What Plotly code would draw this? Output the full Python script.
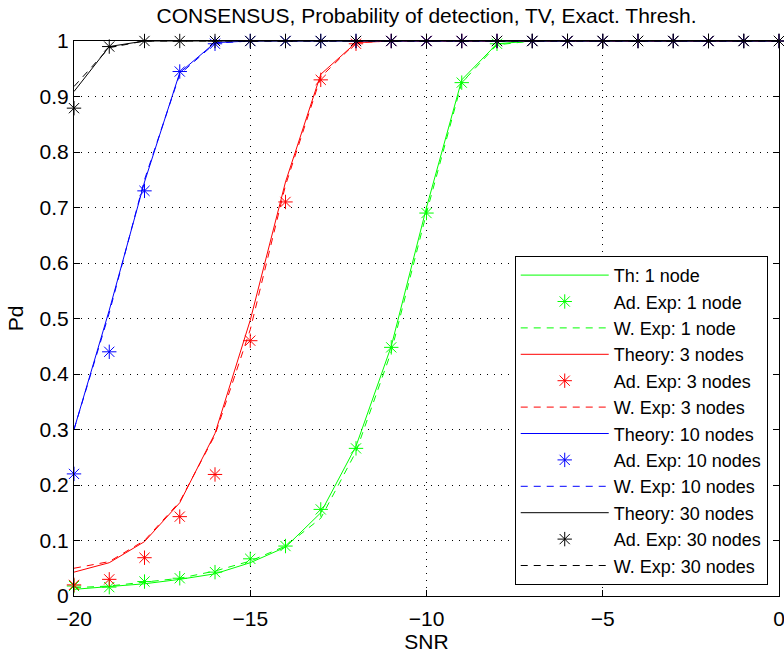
import plotly.graph_objects as go

snr = list(range(-20, 1))

th_1 = [0.012, 0.017, 0.022, 0.030, 0.040, 0.060, 0.088, 0.150, 0.270, 0.450, 0.700, 0.930, 0.995] + [1.0] * 8
ad_1 = [0.018, 0.016, 0.026, 0.032, 0.043, 0.067, 0.090, 0.156, 0.266, 0.448, 0.690, 0.925, 0.995] + [1.0] * 8
we_1 = [0.015, 0.018, 0.025, 0.032, 0.045, 0.063, 0.090, 0.140, 0.260, 0.440, 0.690, 0.925, 0.993] + [1.0] * 8

th_3 = [0.043, 0.060, 0.098, 0.168, 0.293, 0.497, 0.746, 0.940, 0.997] + [1.0] * 12
ad_3 = [0.020, 0.030, 0.069, 0.143, 0.219, 0.460, 0.710, 0.930, 0.995] + [1.0] * 12
we_3 = [0.050, 0.062, 0.100, 0.170, 0.290, 0.480, 0.740, 0.935, 0.997] + [1.0] * 12

th_10 = [0.300, 0.515, 0.746, 0.943, 0.997] + [1.0] * 16
ad_10 = [0.220, 0.440, 0.730, 0.945, 0.995] + [1.0] * 16
we_10 = [0.300, 0.510, 0.750, 0.940, 0.996] + [1.0] * 16

th_30 = [0.909, 0.990] + [1.0] * 19
ad_30 = [0.879, 0.990] + [1.0] * 19
we_30 = [0.918, 0.988] + [1.0] * 19

x_ticks = [-20, -15, -10, -5, 0]
y_ticks = [0, 0.1, 0.2, 0.3, 0.4, 0.5, 0.6, 0.7, 0.8, 0.9, 1]
y_tick_labels = ["0", "0.1", "0.2", "0.3", "0.4", "0.5", "0.6", "0.7", "0.8", "0.9", "1"]

groups = [
    ("Th: 1 node", "Ad. Exp: 1 node", "W. Exp: 1 node", th_1, ad_1, we_1, "#00ff00"),
    ("Theory: 3 nodes", "Ad. Exp: 3 nodes", "W. Exp: 3 nodes", th_3, ad_3, we_3, "#ff0000"),
    ("Theory: 10 nodes", "Ad. Exp: 10 nodes", "W. Exp: 10 nodes", th_10, ad_10, we_10, "#0000ff"),
    ("Theory: 30 nodes", "Ad. Exp: 30 nodes", "W. Exp: 30 nodes", th_30, ad_30, we_30, "#000000"),
]

FONT = "Liberation Sans, Arial, sans-serif"
FS = 21

fig = go.Figure()
for n_th, n_ad, n_we, th, ad, we, col in groups:
    fig.add_trace(go.Scatter(x=snr, y=th, mode="lines", name=n_th,
                             line=dict(color=col, width=1), cliponaxis=False))
    fig.add_trace(go.Scatter(x=snr, y=ad, mode="markers", name=n_ad,
                             marker=dict(symbol="asterisk-open", size=12,
                                         line=dict(color=col, width=1), color=col),
                             cliponaxis=False))
    fig.add_trace(go.Scatter(x=snr, y=we, mode="lines", name=n_we,
                             line=dict(color=col, width=1, dash="7px,6px"), cliponaxis=False))

axis_common = dict(
    showline=True, linecolor="black", linewidth=1, mirror="ticks",
    ticks="inside", ticklen=6, tickcolor="black", tickwidth=1,
    showgrid=True, gridcolor="black", gridwidth=1, griddash="1px,6px",
    zeroline=False, tickfont=dict(family=FONT, size=FS, color="black"),
    automargin=False, ticklabeloverflow="allow",
)

fig.update_xaxes(range=[-20, 0], tickvals=x_ticks, ticklabelstandoff=4,
                 title=dict(text="SNR", standoff=2,
                            font=dict(family=FONT, size=FS, color="black")), **axis_common)
fig.update_yaxes(range=[0, 1], tickvals=y_ticks, ticktext=y_tick_labels,
                 title=dict(text="Pd", standoff=10, font=dict(family=FONT, size=FS, color="black")),
                 **axis_common)

fig.update_layout(
    width=784, height=655,
    margin=dict(l=74, r=5, t=41, b=59),
    plot_bgcolor="white", paper_bgcolor="white",
    font=dict(family=FONT, size=FS, color="black"),
    title=dict(text="CONSENSUS, Probability of detection, TV, Exact. Thresh.",
               x=0.5, xref="paper", xanchor="center",
               y=1 - 16 / 655, yref="container", yanchor="middle",
               font=dict(family=FONT, size=FS, color="black")),
    legend=dict(x=0.984, y=0.02, xanchor="right", yanchor="bottom",
                bgcolor="white", bordercolor="black", borderwidth=1,
                font=dict(family=FONT, size=18, color="black"),
                itemwidth=88, tracegroupgap=0),
    showlegend=True,
)

fig.write_html("out.html")
